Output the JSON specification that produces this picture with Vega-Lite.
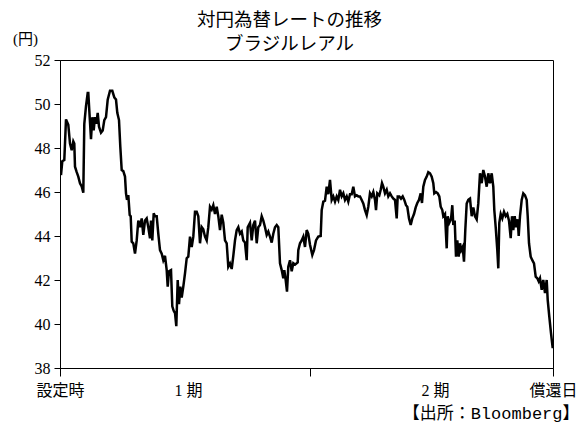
{
  "$schema": "https://vega.github.io/schema/vega-lite/v6.json",
  "width": 493,
  "height": 308,
  "autosize": {"type": "none"},
  "padding": {"left": 60, "top": 60, "right": 26, "bottom": 61},
  "background": "white",
  "title": {
    "text": ["対円為替レートの推移", "ブラジルレアル"],
    "font": "Noto Sans CJK JP",
    "fontSize": 18.5,
    "fontWeight": "normal",
    "color": "black",
    "anchor": "middle",
    "dx": -17,
    "dy": 28,
    "offset": 6,
    "lineHeight": 24
  },
  "config": {"view": {"stroke": "black", "strokeWidth": 1}},
  "data": {
    "values": [
      {"t": 1.0, "rate": 46.77}, {"t": 2.3, "rate": 47.4}, {"t": 4.3, "rate": 47.45}, {"t": 6.0, "rate": 49.3},
      {"t": 8.3, "rate": 49.05}, {"t": 10.0, "rate": 48.2}, {"t": 11.7, "rate": 47.9}, {"t": 13.3, "rate": 48.3},
      {"t": 14.3, "rate": 48.2}, {"t": 15.0, "rate": 47.15}, {"t": 16.7, "rate": 46.9}, {"t": 18.3, "rate": 46.7},
      {"t": 20.0, "rate": 46.4}, {"t": 21.7, "rate": 46.25}, {"t": 23.3, "rate": 45.97}, {"t": 24.3, "rate": 49.1},
      {"t": 26.0, "rate": 49.9}, {"t": 27.7, "rate": 50.5}, {"t": 28.3, "rate": 50.5}, {"t": 29.7, "rate": 49.4},
      {"t": 31.0, "rate": 48.4}, {"t": 32.3, "rate": 49.4}, {"t": 33.7, "rate": 48.8}, {"t": 35.0, "rate": 49.4},
      {"t": 36.3, "rate": 49.1}, {"t": 37.7, "rate": 49.6}, {"t": 39.0, "rate": 48.97}, {"t": 41.0, "rate": 48.7},
      {"t": 42.7, "rate": 48.8}, {"t": 44.3, "rate": 49.27}, {"t": 46.0, "rate": 49.4}, {"t": 47.7, "rate": 50.2},
      {"t": 50.0, "rate": 50.6}, {"t": 52.3, "rate": 50.6}, {"t": 54.3, "rate": 50.3}, {"t": 56.0, "rate": 50.2},
      {"t": 57.3, "rate": 49.6}, {"t": 59.0, "rate": 49.27}, {"t": 60.3, "rate": 48.06}, {"t": 61.7, "rate": 47.0},
      {"t": 63.3, "rate": 46.95}, {"t": 65.0, "rate": 46.7}, {"t": 66.0, "rate": 45.94}, {"t": 67.0, "rate": 45.64},
      {"t": 68.3, "rate": 45.86}, {"t": 69.7, "rate": 44.95}, {"t": 70.7, "rate": 44.9}, {"t": 71.7, "rate": 43.74},
      {"t": 73.3, "rate": 43.67}, {"t": 75.0, "rate": 43.2}, {"t": 76.7, "rate": 43.8}, {"t": 78.3, "rate": 44.7},
      {"t": 80.0, "rate": 44.4}, {"t": 81.7, "rate": 44.8}, {"t": 83.3, "rate": 44.05}, {"t": 85.0, "rate": 44.7},
      {"t": 86.7, "rate": 44.8}, {"t": 88.3, "rate": 44.4}, {"t": 90.0, "rate": 43.9}, {"t": 91.0, "rate": 44.7},
      {"t": 92.3, "rate": 43.8}, {"t": 93.7, "rate": 45.03}, {"t": 95.0, "rate": 44.9}, {"t": 96.7, "rate": 44.9},
      {"t": 98.3, "rate": 44.1}, {"t": 100.0, "rate": 43.36}, {"t": 101.7, "rate": 43.2}, {"t": 103.3, "rate": 42.9},
      {"t": 105.0, "rate": 43.1}, {"t": 106.7, "rate": 42.45}, {"t": 107.7, "rate": 41.7}, {"t": 109.0, "rate": 42.4},
      {"t": 111.0, "rate": 42.45}, {"t": 112.3, "rate": 40.8}, {"t": 113.7, "rate": 40.6}, {"t": 115.0, "rate": 40.5},
      {"t": 116.3, "rate": 39.9}, {"t": 117.7, "rate": 42.0}, {"t": 119.0, "rate": 40.9}, {"t": 120.3, "rate": 41.7},
      {"t": 121.7, "rate": 41.2}, {"t": 123.3, "rate": 41.7}, {"t": 125.0, "rate": 42.3}, {"t": 126.7, "rate": 42.99},
      {"t": 128.3, "rate": 43.06}, {"t": 130.0, "rate": 43.97}, {"t": 131.7, "rate": 43.5}, {"t": 133.3, "rate": 43.97},
      {"t": 135.0, "rate": 45.1}, {"t": 136.7, "rate": 45.1}, {"t": 138.3, "rate": 44.9}, {"t": 140.0, "rate": 43.67},
      {"t": 141.7, "rate": 44.4}, {"t": 143.3, "rate": 44.3}, {"t": 145.0, "rate": 43.97}, {"t": 146.7, "rate": 43.8},
      {"t": 148.3, "rate": 44.4}, {"t": 150.0, "rate": 45.33}, {"t": 151.7, "rate": 45.2}, {"t": 153.3, "rate": 45.4},
      {"t": 155.0, "rate": 45.0}, {"t": 156.7, "rate": 45.33}, {"t": 158.3, "rate": 44.9}, {"t": 160.0, "rate": 44.27},
      {"t": 161.7, "rate": 44.97}, {"t": 163.3, "rate": 44.6}, {"t": 165.0, "rate": 43.8}, {"t": 166.7, "rate": 43.67},
      {"t": 168.3, "rate": 42.6}, {"t": 170.0, "rate": 42.75}, {"t": 171.7, "rate": 42.5}, {"t": 173.3, "rate": 43.1},
      {"t": 175.0, "rate": 43.8}, {"t": 176.7, "rate": 44.27}, {"t": 178.3, "rate": 44.4}, {"t": 180.0, "rate": 44.1},
      {"t": 181.7, "rate": 44.2}, {"t": 183.3, "rate": 43.8}, {"t": 185.0, "rate": 43.7}, {"t": 186.7, "rate": 42.9},
      {"t": 187.7, "rate": 44.4}, {"t": 190.0, "rate": 44.6}, {"t": 191.7, "rate": 43.8}, {"t": 193.3, "rate": 44.5},
      {"t": 195.0, "rate": 44.7}, {"t": 196.7, "rate": 43.67}, {"t": 198.3, "rate": 44.4}, {"t": 200.0, "rate": 44.5},
      {"t": 201.7, "rate": 44.9}, {"t": 203.3, "rate": 44.7}, {"t": 205.0, "rate": 44.4}, {"t": 206.7, "rate": 44.05},
      {"t": 208.3, "rate": 44.2}, {"t": 210.0, "rate": 43.97}, {"t": 211.7, "rate": 43.7}, {"t": 213.3, "rate": 44.1},
      {"t": 215.0, "rate": 44.4}, {"t": 216.7, "rate": 44.5}, {"t": 218.3, "rate": 44.4}, {"t": 220.0, "rate": 42.76},
      {"t": 221.7, "rate": 42.45}, {"t": 223.3, "rate": 42.08}, {"t": 224.3, "rate": 42.45}, {"t": 225.7, "rate": 42.0},
      {"t": 227.0, "rate": 41.47}, {"t": 228.3, "rate": 42.6}, {"t": 230.0, "rate": 42.9}, {"t": 231.7, "rate": 42.4},
      {"t": 233.3, "rate": 42.76}, {"t": 235.0, "rate": 42.7}, {"t": 237.7, "rate": 42.8}, {"t": 238.3, "rate": 43.36},
      {"t": 240.0, "rate": 43.67}, {"t": 241.7, "rate": 43.8}, {"t": 243.3, "rate": 43.97}, {"t": 245.0, "rate": 43.5},
      {"t": 246.7, "rate": 44.27}, {"t": 248.3, "rate": 44.1}, {"t": 250.0, "rate": 43.6}, {"t": 252.3, "rate": 43.14},
      {"t": 254.0, "rate": 43.36}, {"t": 256.0, "rate": 43.8}, {"t": 258.3, "rate": 43.97}, {"t": 260.7, "rate": 44.0},
      {"t": 261.7, "rate": 45.18}, {"t": 263.3, "rate": 45.56}, {"t": 265.0, "rate": 45.6}, {"t": 266.7, "rate": 46.24},
      {"t": 268.3, "rate": 45.9}, {"t": 270.0, "rate": 46.55}, {"t": 271.7, "rate": 45.64}, {"t": 273.3, "rate": 45.8},
      {"t": 275.0, "rate": 45.56}, {"t": 276.7, "rate": 45.8}, {"t": 278.3, "rate": 45.64}, {"t": 280.0, "rate": 46.1},
      {"t": 281.7, "rate": 45.8}, {"t": 283.3, "rate": 45.94}, {"t": 285.0, "rate": 45.64}, {"t": 286.7, "rate": 45.8},
      {"t": 288.3, "rate": 45.56}, {"t": 290.0, "rate": 45.9}, {"t": 291.7, "rate": 45.9}, {"t": 293.3, "rate": 46.24},
      {"t": 295.0, "rate": 45.8}, {"t": 296.7, "rate": 45.85}, {"t": 298.3, "rate": 45.8}, {"t": 300.0, "rate": 45.8},
      {"t": 301.7, "rate": 45.64}, {"t": 303.3, "rate": 45.48}, {"t": 305.0, "rate": 45.18}, {"t": 306.7, "rate": 44.95},
      {"t": 308.3, "rate": 45.33}, {"t": 310.0, "rate": 45.94}, {"t": 311.7, "rate": 45.8}, {"t": 313.3, "rate": 46.0},
      {"t": 315.0, "rate": 45.64}, {"t": 316.0, "rate": 45.18}, {"t": 317.3, "rate": 45.94}, {"t": 319.3, "rate": 45.85},
      {"t": 320.7, "rate": 46.1}, {"t": 322.0, "rate": 46.4}, {"t": 323.3, "rate": 46.24}, {"t": 325.0, "rate": 45.94},
      {"t": 326.7, "rate": 46.1}, {"t": 328.3, "rate": 45.8}, {"t": 330.0, "rate": 45.94}, {"t": 331.7, "rate": 45.8},
      {"t": 333.3, "rate": 45.7}, {"t": 335.0, "rate": 45.64}, {"t": 336.7, "rate": 44.8}, {"t": 337.7, "rate": 45.8},
      {"t": 339.3, "rate": 45.8}, {"t": 341.0, "rate": 45.7}, {"t": 342.7, "rate": 45.8}, {"t": 344.3, "rate": 45.64},
      {"t": 346.0, "rate": 45.4}, {"t": 347.3, "rate": 45.33}, {"t": 349.0, "rate": 44.8}, {"t": 350.7, "rate": 44.5},
      {"t": 352.3, "rate": 44.8}, {"t": 354.0, "rate": 45.0}, {"t": 355.7, "rate": 45.3}, {"t": 357.3, "rate": 45.5},
      {"t": 359.0, "rate": 45.64}, {"t": 360.7, "rate": 45.94}, {"t": 362.0, "rate": 45.5}, {"t": 363.3, "rate": 46.24},
      {"t": 365.0, "rate": 46.55}, {"t": 366.7, "rate": 46.7}, {"t": 368.3, "rate": 46.9}, {"t": 370.0, "rate": 46.85},
      {"t": 371.7, "rate": 46.7}, {"t": 373.3, "rate": 46.4}, {"t": 374.3, "rate": 45.94}, {"t": 376.0, "rate": 46.0},
      {"t": 377.7, "rate": 45.94}, {"t": 379.3, "rate": 45.8}, {"t": 380.7, "rate": 45.33}, {"t": 382.3, "rate": 45.18},
      {"t": 383.3, "rate": 44.9}, {"t": 385.0, "rate": 45.0}, {"t": 386.7, "rate": 43.44}, {"t": 387.7, "rate": 44.9},
      {"t": 389.3, "rate": 44.6}, {"t": 391.0, "rate": 44.76}, {"t": 392.3, "rate": 45.4}, {"t": 393.3, "rate": 44.5},
      {"t": 394.7, "rate": 44.7}, {"t": 396.0, "rate": 43.06}, {"t": 397.3, "rate": 43.8}, {"t": 398.7, "rate": 43.06},
      {"t": 400.0, "rate": 43.67}, {"t": 401.3, "rate": 43.36}, {"t": 402.7, "rate": 43.5}, {"t": 404.0, "rate": 42.83},
      {"t": 405.3, "rate": 44.27}, {"t": 406.7, "rate": 45.48}, {"t": 408.3, "rate": 45.64}, {"t": 410.0, "rate": 45.7},
      {"t": 411.7, "rate": 44.9}, {"t": 413.3, "rate": 45.3}, {"t": 415.0, "rate": 44.9}, {"t": 416.7, "rate": 44.76},
      {"t": 418.3, "rate": 45.48}, {"t": 420.0, "rate": 46.85}, {"t": 421.7, "rate": 46.4}, {"t": 423.3, "rate": 47.0},
      {"t": 425.0, "rate": 46.7}, {"t": 426.7, "rate": 46.24}, {"t": 428.3, "rate": 46.85}, {"t": 430.0, "rate": 46.4},
      {"t": 431.7, "rate": 46.85}, {"t": 433.3, "rate": 46.24}, {"t": 434.3, "rate": 45.18}, {"t": 435.7, "rate": 44.4},
      {"t": 437.3, "rate": 43.36}, {"t": 438.3, "rate": 42.53}, {"t": 439.3, "rate": 44.6}, {"t": 440.7, "rate": 45.0},
      {"t": 442.3, "rate": 44.8}, {"t": 444.0, "rate": 45.1}, {"t": 445.7, "rate": 44.9}, {"t": 447.3, "rate": 45.0},
      {"t": 449.0, "rate": 44.7}, {"t": 450.7, "rate": 43.9}, {"t": 452.0, "rate": 44.9}, {"t": 453.3, "rate": 44.27},
      {"t": 454.7, "rate": 44.9}, {"t": 456.0, "rate": 44.4}, {"t": 457.7, "rate": 44.76}, {"t": 458.7, "rate": 44.0},
      {"t": 460.0, "rate": 44.9}, {"t": 461.7, "rate": 45.64}, {"t": 463.3, "rate": 45.94}, {"t": 465.0, "rate": 45.85},
      {"t": 466.7, "rate": 45.64}, {"t": 467.7, "rate": 44.9}, {"t": 469.0, "rate": 43.67}, {"t": 470.7, "rate": 43.06},
      {"t": 472.3, "rate": 42.9}, {"t": 474.0, "rate": 42.76}, {"t": 475.7, "rate": 42.15}, {"t": 477.3, "rate": 42.08},
      {"t": 478.7, "rate": 41.94}, {"t": 480.0, "rate": 42.08}, {"t": 481.7, "rate": 41.55}, {"t": 483.3, "rate": 42.0},
      {"t": 485.0, "rate": 41.4}, {"t": 486.7, "rate": 42.0}, {"t": 487.7, "rate": 41.1}, {"t": 489.3, "rate": 40.33},
      {"t": 491.0, "rate": 39.58}, {"t": 492.7, "rate": 38.9}
    ]
  },
  "mark": {"type": "line", "color": "black", "strokeWidth": 2.5, "clip": true},
  "encoding": {
    "x": {
      "field": "t",
      "type": "quantitative",
      "scale": {"domain": [0, 493], "nice": false, "zero": false},
      "axis": {
        "values": [0, 128, 250, 375, 493],
        "labelExpr": "datum.value == 0 ? '設定時' : datum.value == 128 ? '1 期' : datum.value == 375 ? '2 期' : datum.value == 493 ? '償還日' : ''",
        "tickOpacity": {"condition": {"test": "datum.value == 128 || datum.value == 375", "value": 0}, "value": 1},
        "grid": false,
        "domainColor": "black",
        "tickColor": "black",
        "tickSize": 8,
        "labelPadding": 6,
        "labelFont": "Liberation Serif, DejaVu Serif, Noto Sans CJK JP, serif",
        "labelFontSize": 16,
        "labelColor": "black",
        "labelFlush": false,
        "labelOverlap": false,
        "labelBound": false,
        "title": "【出所：Bloomberg】",
        "titleFont": "Liberation Mono, Noto Sans CJK JP, monospace",
        "titleFontSize": 17,
        "titleFontWeight": "normal",
        "titleColor": "black",
        "titleX": 519,
        "titleY": 45,
        "titleAlign": "right",
        "titleBaseline": "middle"
      }
    },
    "y": {
      "field": "rate",
      "type": "quantitative",
      "scale": {"domain": [38, 52], "nice": false, "zero": false},
      "axis": {
        "values": [38, 40, 42, 44, 46, 48, 50, 52],
        "grid": false,
        "domainColor": "black",
        "tickColor": "black",
        "tickSize": 6,
        "labelPadding": 4,
        "labelFont": "Liberation Serif, DejaVu Serif, serif",
        "labelFontSize": 16,
        "labelColor": "black",
        "labelFlush": false,
        "labelBound": false,
        "title": "(円)",
        "titleFont": "Liberation Serif, Noto Sans CJK JP, serif",
        "titleFontSize": 15,
        "titleFontWeight": "normal",
        "titleColor": "black",
        "titleAngle": 0,
        "titleX": -35,
        "titleY": -22,
        "titleAlign": "center",
        "titleBaseline": "middle"
      }
    }
  }
}
